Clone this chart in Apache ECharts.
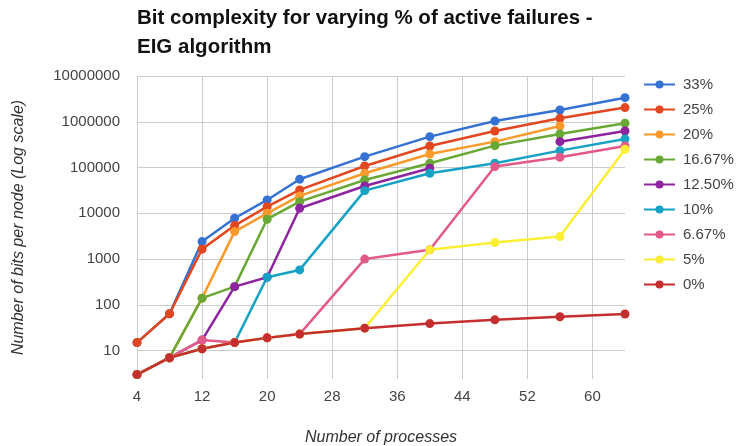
<!DOCTYPE html>
<html>
<head>
<meta charset="utf-8">
<script src="https://cdn.jsdelivr.net/npm/echarts@6/dist/echarts.min.js"></script>
<style>html,body{margin:0;padding:0;background:#fff;}#c{width:737px;height:446px;}</style>
</head>
<body>
<div id="c"></div>
<script>
var processes = [4, 8, 12, 16, 20, 24, 32, 40, 48, 56, 64];
var seriesNames = ['33%', '25%', '20%', '16.67%', '12.50%', '10%', '6.67%', '5%', '0%'];
var s33  = [15, 64, 2410, 7800, 19600, 55500, 173000, 473000, 1040000, 1810000, 3360000];
var s25  = [15, 64, 1650, 5400, 14000, 32400, 108000, 296000, 630000, 1190000, 2040000];
var s20  = [3, 7, 140, 3990, 10000, 24000, 75000, 198000, 368000, 810000, null];
var s1667 = [3, 7, 140, 250, 7430, 18000, 53600, 124000, 301000, 542000, 927000];
var s1250 = [3, 7, 17, 250, 400, 12900, 39600, 96600, null, 368000, 630000];
var s10  = [3, 7, 11, 15, 400, 580, 31300, 75000, 124000, 234000, 421000];
var s667 = [3, 7, 17, 15, 19, 23, 1000, 1600, 105000, 168000, 296000];
var s5   = [3, 7, 11, 15, 19, 23, 31, 1600, 2290, 3100, 251000];
var s0   = [3, 7, 11, 15, 19, 23, 31, 39, 47, 55, 63];
var yTickValues = [10, 100, 1000, 10000, 100000, 1000000, 10000000];
var xTickLabels = [4, 12, 20, 28, 36, 44, 52, 60];

var allValues = [s33, s25, s20, s1667, s1250, s10, s667, s5, s0];
var colors = ['#3572d3', '#e2471f', '#fb9a2c', '#69a834', '#8e249f', '#16a2c5', '#e35989', '#fcee35', '#c42e2e'];

var series = seriesNames.map(function (name, i) {
  return {
    name: name,
    type: 'line',
    data: processes.map(function (x, j) { return [x, allValues[i][j]]; }),
    symbol: 'circle',
    symbolSize: 9,
    showAllSymbol: true,
    connectNulls: false,
    lineStyle: { width: 2.5, color: colors[i] },
    itemStyle: { color: colors[i] },
    emphasis: { disabled: true },
    animation: false
  };
});

var chart = echarts.init(document.getElementById('c'), null, { renderer: 'canvas' });
chart.setOption({
  animation: false,
  backgroundColor: '#ffffff',
  title: {
    text: 'Bit complexity for varying % of active failures -\nEIG algorithm',
    left: 137,
    top: 4,
    padding: 0,
    textStyle: {
      fontFamily: 'Liberation Sans, Arial, sans-serif',
      fontSize: 20.5,
      fontWeight: 'bold',
      lineHeight: 29,
      color: '#111'
    }
  },
  legend: {
    orient: 'vertical',
    left: 643,
    top: 77,
    padding: 0,
    itemWidth: 31,
    itemHeight: 10,
    itemGap: 10,
    data: seriesNames,
    textStyle: {
      fontFamily: 'Liberation Sans, Arial, sans-serif',
      fontSize: 15,
      lineHeight: 15,
      padding: [0, 0, 0, 3],
      color: '#444'
    }
  },
  grid: { left: 137, right: 112, top: 76, bottom: 67, containLabel: false, outerBoundsMode: 'none' },
  xAxis: {
    type: 'value',
    min: 4,
    max: 64,
    interval: 8,
    name: 'Number of processes',
    nameLocation: 'middle',
    nameGap: 51,
    nameTextStyle: {
      fontFamily: 'Liberation Sans, Arial, sans-serif',
      fontSize: 16,
      fontStyle: 'italic',
      color: '#333'
    },
    axisLine: { show: false },
    axisTick: { show: false },
    axisLabel: {
      showMaxLabel: false,
      margin: 10,
      fontFamily: 'Liberation Sans, Arial, sans-serif',
      fontSize: 15,
      color: '#444',
      formatter: function (v) { return xTickLabels.indexOf(v) >= 0 ? String(v) : ''; }
    },
    splitLine: { show: true, showMinLine: true, showMaxLine: false, lineStyle: { color: '#cccccc', width: 1 } }
  },
  yAxis: {
    type: 'log',
    logBase: 10,
    min: 2.4,
    max: 10000000,
    splitNumber: 7,
    name: 'Number of bits per node (Log scale)',
    nameLocation: 'middle',
    nameRotate: 90,
    nameGap: 110,
    nameTextStyle: {
      fontFamily: 'Liberation Sans, Arial, sans-serif',
      fontSize: 16,
      fontStyle: 'italic',
      color: '#333'
    },
    axisLine: { show: false },
    axisTick: { show: false },
    axisLabel: {
      margin: 17,
      fontFamily: 'Liberation Sans, Arial, sans-serif',
      fontSize: 15,
      color: '#444',
      formatter: function (v) {
        for (var k = 0; k < yTickValues.length; k++) {
          if (Math.abs(v - yTickValues[k]) / yTickValues[k] < 1e-6) return String(yTickValues[k]);
        }
        return '';
      }
    },
    splitLine: { show: true, showMinLine: false, lineStyle: { color: '#cccccc', width: 1 } }
  },
  series: series
});
</script>
</body>
</html>
